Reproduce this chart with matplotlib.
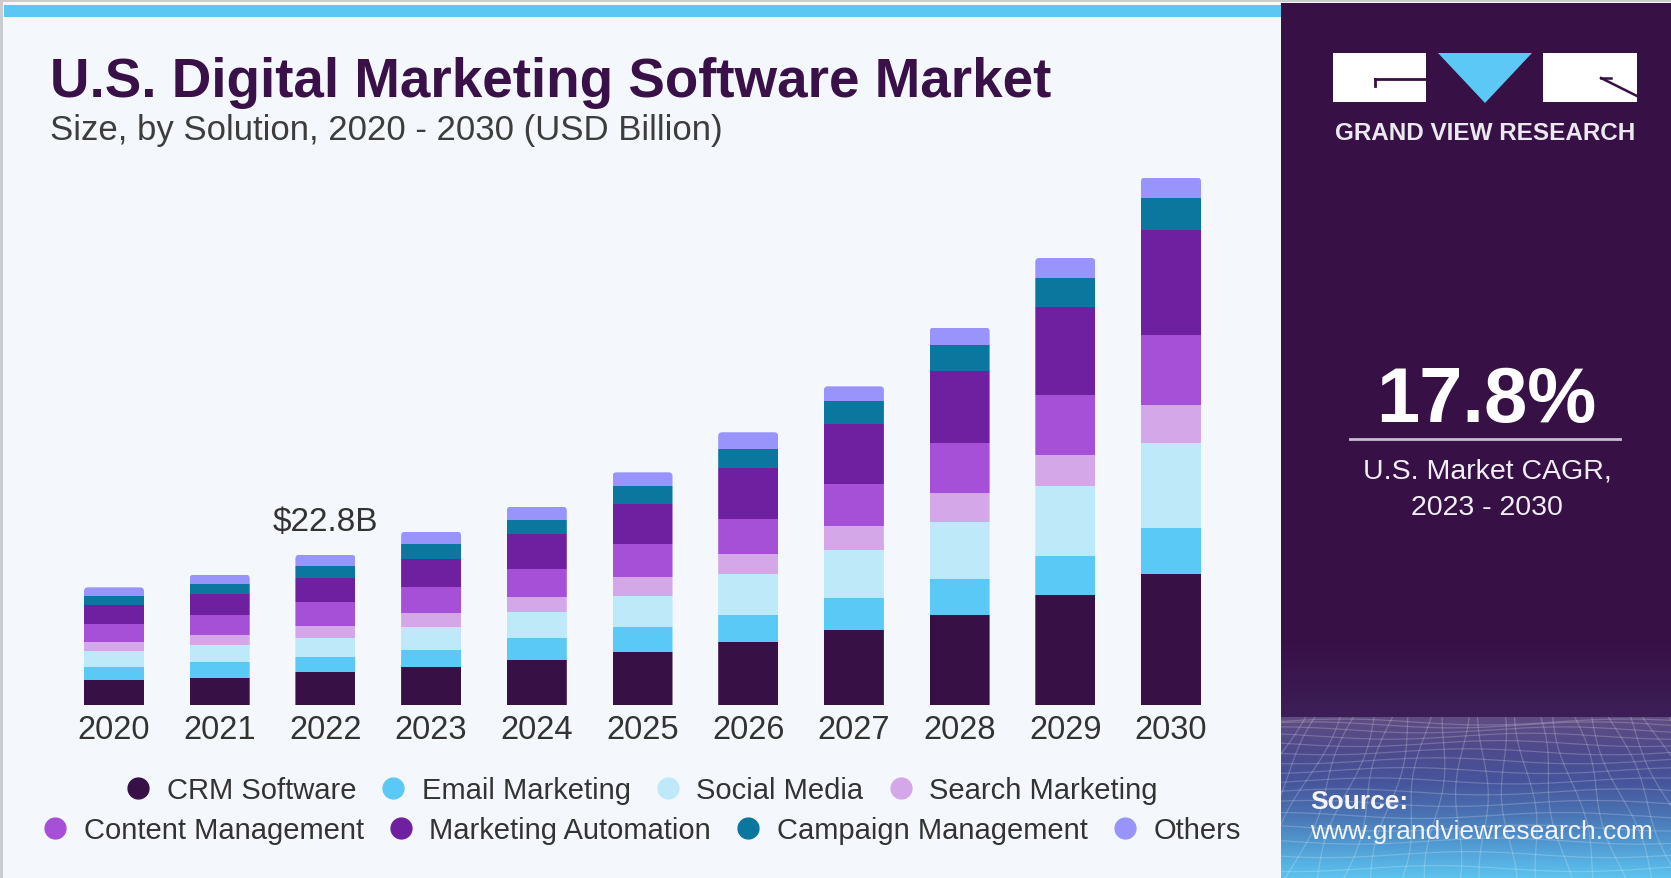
import matplotlib.pyplot as plt
import numpy as np
from matplotlib.colors import LinearSegmentedColormap
from matplotlib.lines import Line2D
from matplotlib.patches import FancyBboxPatch, Polygon, Rectangle

# U.S. digital marketing software market by solution, USD billion
years = [2020, 2021, 2022, 2023, 2024, 2025, 2026, 2027, 2028, 2029, 2030]
crm = [3.75, 4.06, 4.92, 5.68, 6.84, 7.96, 9.48, 11.40, 13.57, 16.61, 19.87]
email = [2.02, 2.39, 2.28, 2.68, 3.25, 3.80, 4.20, 4.77, 5.59, 5.97, 7.01]
social = [2.43, 2.63, 2.93, 3.40, 3.95, 4.80, 6.14, 7.34, 8.68, 10.69, 12.86]
search = [1.28, 1.52, 1.87, 2.17, 2.28, 2.80, 3.04, 3.60, 4.29, 4.62, 5.76]
content = [2.78, 3.09, 3.65, 3.91, 4.30, 5.06, 5.37, 6.43, 7.66, 9.12, 10.64]
automation = [2.89, 3.10, 3.65, 4.30, 5.32, 6.13, 7.71, 9.12, 10.91, 13.51, 16.07]
campaign = [1.32, 1.52, 1.73, 2.23, 2.17, 2.64, 2.93, 3.50, 3.91, 4.39, 4.77]
others = [1.37, 1.46, 1.76, 1.92, 1.98, 2.13, 2.54, 2.23, 2.71, 2.99, 3.15]

segment_names = ["CRM Software", "Email Marketing", "Social Media", "Search Marketing",
                 "Content Management", "Marketing Automation", "Campaign Management", "Others"]
segments = [crm, email, social, search, content, automation, campaign, others]
colors = ["#371046", "#5BC9F5", "#BDE9F8", "#D4A7E9",
          "#A550D6", "#6F20A0", "#0B769E", "#9894FC"]

highlight_year = 2022
cagr_text = "17.8%"

W, H = 1671, 879
PANEL_X = 1281

plt.rcParams['font.family'] = ['Liberation Sans', 'DejaVu Sans']


def fx(px):
    return px / W


def fy(py):
    return 1 - py / H


fig = plt.figure(figsize=(W / 100, H / 100), dpi=100, facecolor='#F4F8FC')

# decoration layer in pixel coordinates
bg = fig.add_axes([0, 0, 1, 1])
bg.set_xlim(0, W)
bg.set_ylim(H, 0)
bg.axis('off')
bg.add_patch(Rectangle((0, 0), W, 3, color='#C9CDD2', lw=0))
bg.add_patch(Rectangle((0, 0), 3, H, color='#C9CDD2', lw=0))
bg.add_patch(Rectangle((4, 6), PANEL_X - 4, 12, color='#5BC8F3', lw=0))
bg.add_patch(Rectangle((PANEL_X, 4), W - PANEL_X, H, color='#371046', lw=0))

# gradient band with a mesh at the bottom of the side panel
band_top = 718
grad = np.linspace(0, 1, 256)[:, None]
fade_cmap = LinearSegmentedColormap.from_list('fade', ['#371046', '#3D1F57'])
bg.imshow(grad, extent=(PANEL_X, W, band_top, 640), cmap=fade_cmap,
          aspect='auto', zorder=1, interpolation='bilinear')
band_cmap = LinearSegmentedColormap.from_list(
    'band', ['#5F4D82', '#4E4A8C', '#46549B', '#4A72B2', '#519CD4', '#5CC3EE'])
bg.imshow(grad, extent=(PANEL_X, W, H, band_top), cmap=band_cmap,
          aspect='auto', zorder=1, interpolation='bilinear')
clip = Rectangle((PANEL_X, band_top), W - PANEL_X, H - band_top, transform=bg.transData)
xs = np.linspace(PANEL_X, W, 200)
for k in range(17):
    y0 = band_top + 5 + (H - band_top) * (k / 16) ** 1.45
    ln, = bg.plot(xs, y0 + 3 * np.sin(xs / 45 + k * 0.7), color='white', lw=0.9,
                  alpha=0.2, zorder=2)
    ln.set_clip_path(clip)
ys = np.linspace(band_top, H, 60)
vp_x, vp_y = 1480, 420
for xb in np.arange(700, 2300, 28):
    xl = vp_x + (xb - vp_x) * (ys - vp_y) / (H - vp_y) + 5 * np.sin(ys / 25 + xb)
    ln, = bg.plot(xl, ys, color='white', lw=0.9, alpha=0.2, zorder=2)
    ln.set_clip_path(clip)

# logo
bg.add_patch(Rectangle((1333, 54), 93, 49, color='white', lw=0, zorder=3))
bg.add_patch(Rectangle((1543, 54), 94, 49, color='white', lw=0, zorder=3))
bg.add_patch(Polygon([(1438, 54), (1532, 54), (1485, 104)], closed=True,
                     color='#5BC8F5', lw=0, zorder=3))
bg.plot([1375, 1426], [80, 80], color='#371046', lw=2, zorder=4)
bg.plot([1375, 1375], [80, 87], color='#371046', lw=2, zorder=4)
bg.plot([1601, 1637], [79, 97], color='#371046', lw=1.8, zorder=4)
bg.plot([1601, 1611], [79, 79], color='#371046', lw=1.8, zorder=4)
fig.text(fx(1485), fy(133), "GRAND VIEW RESEARCH", ha='center', va='center',
         fontsize=17.5, fontweight='bold', color='#ECE8F0')

# CAGR block
fig.text(fx(1486), fy(422), cagr_text, ha='center', va='baseline',
         fontsize=56, fontweight='bold', color='white')
bg.plot([1350, 1620], [440, 440], color='#C8BED2', lw=2, zorder=4)
fig.text(fx(1487), fy(472), "U.S. Market CAGR,", ha='center', va='center',
         fontsize=20.5, color='#F2EEF5')
fig.text(fx(1487), fy(508), "2023 - 2030", ha='center', va='center',
         fontsize=20.5, color='#F2EEF5')

# source
fig.text(fx(1310), fy(802), "Source:", ha='left', va='center',
         fontsize=19, fontweight='bold', color='#F4F4F8')
fig.text(fx(1310), fy(832), "www.grandviewresearch.com", ha='left', va='center',
         fontsize=19, color='#F4F4F8')

# titles
fig.text(fx(50), fy(97), "U.S. Digital Marketing Software Market", ha='left',
         va='baseline', fontsize=39.4, fontweight='bold', color='#3A1049')
fig.text(fx(50), fy(140), "Size, by Solution, 2020 - 2030 (USD Billion)", ha='left',
         va='baseline', fontsize=25, color='#3D3D3D')

# stacked bars
base_px, top_px = 705.7, 160
left_px, right_px = 60, 1225
step_px, first_px = 105.7, 114
b_per_px = 0.152
bar_w = 60 / step_px

ax = fig.add_axes([fx(left_px), fy(base_px), (right_px - left_px) / W, (base_px - top_px) / H])
ax.patch.set_alpha(0)
x = np.arange(len(years))
bottom = np.zeros(len(years))
containers = []
for name, vals, col in zip(segment_names, segments, colors):
    containers.append(ax.bar(x, vals, width=bar_w, bottom=bottom, color=col,
                             linewidth=0, label=name))
    bottom += np.array(vals)

ax.set_xlim(-(first_px - left_px) / step_px,
            len(years) - 1 + (right_px - first_px - (len(years) - 1) * step_px) / step_px)
ax.set_ylim(0, (base_px - top_px) * b_per_px)

# round the top corners of each stacked column
radius = 4 / step_px
aspect = b_per_px * step_px
for i, total in enumerate(bottom):
    shape = FancyBboxPatch((x[i] - bar_w / 2, -10), bar_w, total + 10,
                           boxstyle=f"round,pad=0,rounding_size={radius}",
                           mutation_aspect=aspect, transform=ax.transData,
                           facecolor='none', edgecolor='none')
    ax.add_patch(shape)
    for cont in containers:
        cont.patches[i].set_clip_path(shape)

ax.set_xticks(x)
ax.set_xticklabels([str(y) for y in years], fontsize=23.5, color='#333333')
ax.tick_params(axis='x', length=0, pad=7)
ax.set_yticks([])
for s in ax.spines.values():
    s.set_visible(False)

hi = years.index(highlight_year)
ax.annotate(f"${bottom[hi]:.1f}B", xy=(x[hi], bottom[hi]), xytext=(0, 18),
            textcoords='offset points', ha='center', va='baseline',
            fontsize=24, color='#333333')

# legend in two centred rows
handles = [Line2D([], [], ls='none', marker='o', ms=15, mfc=c, mec=c) for c in colors]
leg_kw = dict(loc='center', ncol=4, frameon=False, fontsize=21, handlelength=0.8,
              handletextpad=0.58, columnspacing=0.87, borderpad=0, borderaxespad=0,
              labelcolor='#333333')
fig.legend(handles[:4], segment_names[:4], bbox_to_anchor=(fx(642), fy(791)), **leg_kw)
fig.legend(handles[4:], segment_names[4:], bbox_to_anchor=(fx(642), fy(831)), **leg_kw)

fig.savefig("out.png", dpi=100, facecolor=fig.get_facecolor())
